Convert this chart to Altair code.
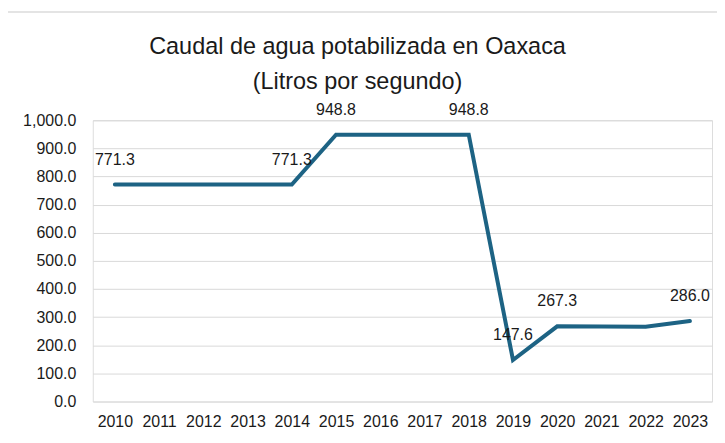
import altair as alt
import pandas as pd

years = ["2010", "2011", "2012", "2013", "2014", "2015", "2016",
         "2017", "2018", "2019", "2020", "2021", "2022", "2023"]
values = [771.3, 771.3, 771.3, 771.3, 771.3, 948.8, 948.8,
          948.8, 948.8, 147.6, 267.3, 266.5, 265.8, 286.0]
labels = ["771.3", "", "", "", "771.3", "948.8", "",
          "", "948.8", "147.6", "267.3", "", "", "286.0"]

df = pd.DataFrame({"year": years, "value": values, "label": labels})

FONT = "Liberation Sans"
LINE = "#1D6384"
TXT = "#1a1a1a"

x = alt.X("year:N", sort=years, title=None,
          scale=alt.Scale(type="point", padding=0.5),
          axis=alt.Axis(labelAngle=0, ticks=False, tickSize=0, domain=False,
                        labelPadding=12, labelFontSize=16, labelFont=FONT,
                        labelColor=TXT, grid=False))
y = alt.Y("value:Q", title=None,
          scale=alt.Scale(domain=[0, 1000], nice=False),
          axis=alt.Axis(values=list(range(0, 1001, 100)), format=",.1f",
                        ticks=False, tickSize=0, domain=False, labelPadding=17,
                        labelFontSize=16, labelFont=FONT, labelColor=TXT,
                        gridColor="#d9d9d9", gridWidth=1))

base = alt.Chart(df).encode(x=x, y=y)

line = base.mark_line(color=LINE, strokeWidth=4, strokeCap="round",
                      strokeJoin="miter")
text = base.mark_text(dy=-25, fontSize=16, font=FONT, color=TXT,
                      baseline="middle").encode(text="label:N")

frame = alt.Chart(df).mark_rect(fill=None, stroke="#dcdcdc", strokeWidth=1.5,
                                clip=False).encode(
    x=alt.value(-86), x2=alt.value(650), y=alt.value(-108.5), y2=alt.value(340)
).transform_filter("datum.year == '2010'")

chart = alt.layer(frame, line, text).properties(
    width=621, height=282,
    autosize=alt.AutoSizeParams(type="none"),
    padding={"left": 85, "top": 112, "right": 5, "bottom": 30},
    title=alt.TitleParams(
        text=["Caudal de agua potabilizada en Oaxaca", "(Litros por segundo)"],
        font=FONT, fontSize=23.5, fontWeight="normal",
        color=TXT, lineHeight=35, anchor="middle", frame="group",
        offset=-82.5, dx=-45),
).configure_view(stroke=None).configure(background="white")

chart.save("out.html", embed_options={"renderer": "svg", "actions": False})
